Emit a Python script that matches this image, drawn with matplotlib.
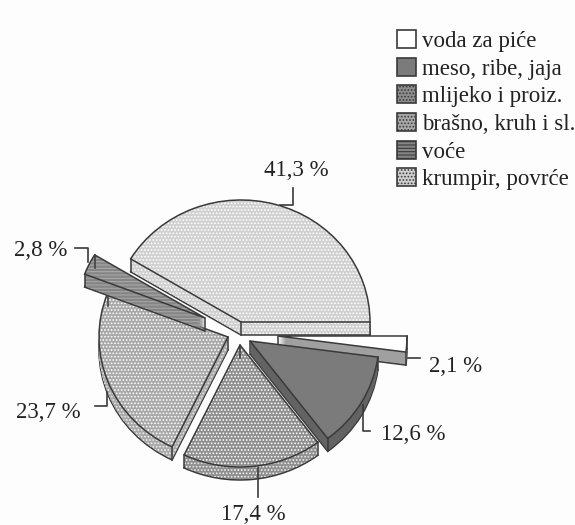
import numpy as np
import matplotlib
matplotlib.use('Agg')
import matplotlib.pyplot as plt
from matplotlib.patches import Patch
from matplotlib.transforms import Affine2D

plt.rcParams['font.family'] = ['Liberation Serif', 'DejaVu Serif']
plt.rcParams['hatch.linewidth'] = 0.8

# redoslijed kao na slici, od 0 stupnjeva suprotno od kazaljke
kategorije = ['krumpir, povrće', 'voće', 'brašno, kruh i sl.', 'mlijeko i proiz.', 'meso, ribe, jaja', 'voda za piće']
udio = [41.3, 2.8, 23.7, 17.4, 12.6, 2.1]
oznake = ['41,3 %', '2,8 %', '23,7 %', '17,4 %', '12,6 %', '2,1 %']

# izgled
boja_gore = ['#d0d0d0', '#858585', '#a8a8a8', '#8e8e8e', '#7b7b7b', '#ffffff']
boja_strana = ['#d0d0d0', '#858585', '#a8a8a8', '#8e8e8e', '#636363', '#a0a0a0']
srafura = ['.....', '-----', '.....', '.....', None, None]
boja_srafure = ['#ffffff', '#aaaaaa', '#ffffff', '#ffffff', '#7b7b7b', '#ffffff']
pomak = [(241, 322), (205, 318), (228, 337), (240, 345), (250, 341), (278, 336)]
redoslijed = [0, 2, 1, 3, 5, 4]  # sto se crta prvo
rx, ry, dubina = 129, 122, 13
crta = '#3a3a3a'

fig = plt.figure(figsize=(5.75, 5.25), dpi=100)
ax = fig.add_axes([0, 0, 1, 1])
# pikseli slike -> figura
px = Affine2D().scale(1 / 575, -1 / 525).translate(0, 1) + fig.transFigure


def kriska(i, d):
    return Affine2D().scale(rx, -ry).translate(pomak[i][0], pomak[i][1] + d) + px


def sloj(i, d, z, obrub=False):
    wedges, _ = ax.pie(udio, radius=1, startangle=0, counterclock=True)
    for j, w in enumerate(wedges):
        if j != i:
            w.remove()
    w = wedges[i]
    w.set_transform(kriska(i, d))
    w.set_zorder(z)
    if obrub:
        w.set_facecolor('none')
        w.set_edgecolor(crta)
        w.set_linewidth(1.1)
    else:
        w.set_facecolor(boja_gore[i] if d == 0 else boja_strana[i])
        w.set_hatch(srafura[i])
        w.set_edgecolor(boja_srafure[i] if d == 0 or i < 4 else boja_strana[i])
        w.set_linewidth(0)
    return w


for r, i in enumerate(redoslijed):
    z = 10 + r * 100
    w = None
    for d in range(dubina, -1, -1):
        w = sloj(i, d, z + (dubina - d) + 2 if d < dubina else z)
    sloj(i, dubina, z + 1, obrub=True)
    # okomiti rubovi
    t = np.radians([w.theta1, w.theta2])
    xs = np.r_[np.cos(t), 0]
    ys = np.r_[np.sin(t), 0]
    for a, b in zip(xs, ys):
        ax.plot([a, a], [b, b - dubina / ry], color=crta, lw=1.1, zorder=z + dubina + 2,
                transform=kriska(i, 0), clip_on=False)
    sloj(i, 0, z + dubina + 4, obrub=True)

# crte do oznaka
vodilice = [
    ([293, 293, 280], [188, 205, 205]),
    ([75, 88, 88], [248, 248, 262]),
    ([95, 107, 107], [406, 406, 392]),
    ([258, 258], [468, 497]),
    ([363, 363, 370], [405, 431, 431]),
    ([408, 420], [358, 358]),
]
polozaj = [(296, 170), (41, 251), (48, 412), (253, 514), (413, 435), (456, 366)]
for (vx, vy), (tx, ty), txt in zip(vodilice, polozaj, oznake):
    ax.plot(vx, vy, color=crta, lw=1.2, transform=px, clip_on=False, zorder=1000)
    ax.text(tx, ty, txt, transform=px, ha='center', va='center', fontsize=16.5, color='#222222')

ax.set_xlim(0, 1)
ax.set_ylim(0, 1)
ax.axis('off')

# legenda ide obrnutim redom
obrnuto = list(range(len(udio)))[::-1]
leg = ax.legend(
    [Patch(facecolor=boja_gore[i], edgecolor=crta, lw=1.2,
           hatch=srafura[i]) for i in obrnuto],
    [kategorije[i] for i in obrnuto],
    loc='upper left', bbox_to_anchor=(397 / 575, 1 - 30 / 525), bbox_transform=fig.transFigure,
    frameon=False, fontsize=16.5, borderpad=0, borderaxespad=0, handlelength=0.83, handleheight=0.83,
    handletextpad=0.25, labelspacing=0.25)
for t in leg.get_texts():
    t.set_color('#222222')
leg.set_zorder(2000)

fig.savefig('out.png', dpi=100, facecolor='#fdfdfd')
